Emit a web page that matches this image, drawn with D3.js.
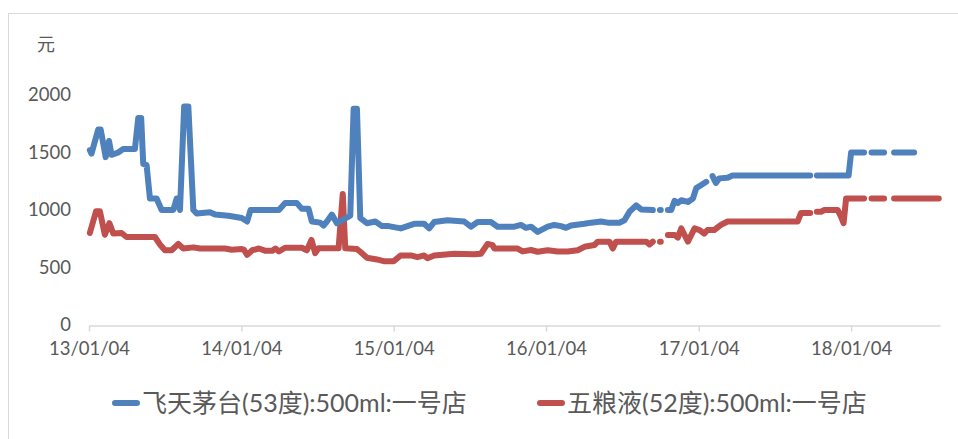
<!DOCTYPE html>
<html><head><meta charset="utf-8">
<script src="https://cdn.jsdelivr.net/npm/d3@7"></script>
<style>body{margin:0;background:#fff}svg{display:block}</style>
</head><body>
<svg id="c" width="958" height="439"></svg>
<script>
const seriesNames = ["飞天茅台(53度):500ml:一号店", "五粮液(52度):500ml:一号店"];
const seriesColors = ["#4F81BD", "#C0504D"];
const yTicks = [0, 500, 1000, 1500, 2000];
const yUnit = "元";
const xTickDates = ["2013-01-04","2014-01-04","2015-01-04","2016-01-04","2017-01-04","2018-01-04"];

const moutaiDates = ["2013-01-06","2013-01-10","2013-01-26","2013-02-01","2013-02-13","2013-02-21","2013-02-27","2013-03-15","2013-03-27","2013-04-24","2013-05-02","2013-05-09","2013-05-14","2013-05-22","2013-05-30","2013-06-15","2013-06-27","2013-07-25","2013-08-02","2013-08-10","2013-08-20","2013-08-30","2013-09-11","2013-09-19","2013-10-21","2013-11-02","2013-12-04","2014-01-05","2014-01-18","2014-01-26","2014-04-04","2014-04-19","2014-05-17","2014-05-29","2014-06-14","2014-06-22","2014-07-12","2014-07-20","2014-07-28","2014-08-09","2014-08-21","2014-09-22","2014-09-30","2014-10-08","2014-10-16","2014-11-01","2014-11-21","2014-12-07","2014-12-23","2015-01-21","2015-02-22","2015-03-18","2015-03-30","2015-04-11","2015-05-13","2015-06-22","2015-07-08","2015-07-24","2015-08-25","2015-09-10","2015-10-20","2015-11-05","2015-11-17","2015-11-29","2015-12-15","2016-01-08","2016-01-24","2016-02-09","2016-02-21","2016-03-04","2016-04-05","2016-04-21","2016-05-15","2016-05-31","2016-06-28","2016-07-10","2016-07-22","2016-08-07","2016-08-19","2016-09-16","2016-09-24","2016-10-03","2016-10-05","2016-10-13","2016-10-22","2016-10-30","2016-11-07","2016-11-15","2016-11-23","2016-12-09","2016-12-21","2016-12-29","2017-01-09","2017-01-22","2017-01-29","2017-02-06","2017-02-14","2017-02-22","2017-03-14","2017-03-26","2017-09-28","2017-10-06","2017-10-14","2017-12-29","2018-01-04","2018-02-04","2018-02-13","2018-02-22","2018-03-24","2018-04-03","2018-04-17","2018-06-04"];
const moutaiValues = [1520,1490,1700,1700,1460,1600,1480,1500,1530,1530,1800,1800,1400,1390,1100,1100,1000,1000,1100,1000,1900,1900,1000,970,980,960,950,930,900,1000,1000,1060,1060,1010,1010,900,890,865,900,960,885,950,1880,1880,930,885,900,860,860,840,880,880,840,895,910,900,855,895,895,855,855,870,845,855,810,855,870,860,845,865,880,890,900,890,890,910,985,1040,1005,1000,null,1000,1000,null,1000,1000,1080,1060,1085,1070,1100,1190,1215,1245,null,1295,1235,1275,1280,1300,1300,null,1300,1300,1500,1500,null,1500,1500,null,1500,1500];

const wuliangyeDates = ["2013-01-06","2013-01-21","2013-01-30","2013-02-11","2013-02-22","2013-03-03","2013-03-23","2013-04-04","2013-06-11","2013-06-23","2013-07-05","2013-07-21","2013-08-06","2013-08-18","2013-09-11","2013-09-27","2013-11-26","2013-12-12","2014-01-05","2014-01-10","2014-01-18","2014-01-30","2014-02-15","2014-03-03","2014-03-19","2014-03-27","2014-04-04","2014-04-19","2014-05-29","2014-06-10","2014-06-21","2014-06-30","2014-07-08","2014-08-25","2014-09-04","2014-09-10","2014-10-08","2014-10-16","2014-11-01","2014-11-25","2014-12-11","2015-01-04","2015-01-21","2015-02-14","2015-03-02","2015-03-18","2015-03-26","2015-04-11","2015-05-29","2015-07-16","2015-08-01","2015-08-17","2015-08-29","2015-09-02","2015-10-28","2015-11-09","2015-11-29","2015-12-15","2016-01-08","2016-02-01","2016-02-25","2016-03-20","2016-04-05","2016-04-29","2016-05-07","2016-06-04","2016-06-12","2016-06-20","2016-08-31","2016-09-08","2016-09-16","2016-09-24","2016-10-03","2016-10-05","2016-10-13","2016-10-22","2016-11-07","2016-11-15","2016-11-23","2016-12-09","2016-12-25","2017-01-06","2017-01-17","2017-01-25","2017-02-10","2017-02-26","2017-03-14","2017-08-29","2017-09-06","2017-09-28","2017-10-06","2017-10-14","2017-10-24","2017-11-01","2017-12-03","2017-12-11","2017-12-17","2017-12-23","2018-02-04","2018-02-13","2018-02-22","2018-03-24","2018-04-03","2018-04-17","2018-08-02"];
const wuliangyeValues = [800,990,990,785,885,795,800,765,765,700,650,650,705,665,675,665,665,655,660,655,610,650,665,645,645,665,640,672,672,650,740,625,667,667,1140,667,660,637,585,570,555,555,605,605,590,605,580,605,620,615,620,705,695,665,665,640,652,637,650,640,640,650,680,695,725,725,665,725,725,700,725,null,725,725,null,783,783,760,840,725,840,825,795,826,826,870,900,900,975,975,null,985,985,1000,1000,940,885,1100,1100,null,1100,1100,null,1100,1100];

const svg = d3.select("#c");
const font = "Lato, 'Noto Sans CJK SC', sans-serif";
const textColor = "#595959";
const parse = d3.timeParse("%Y-%m-%d");

// chart border
svg.append("rect").attr("x", 8.5).attr("y", 13.5).attr("width", 1000).attr("height", 500)
  .attr("fill", "#fff").attr("stroke", "#d9d9d9");

const x = d3.scaleTime().domain([parse("2013-01-04"), parse("2018-08-05")]).range([89, 940]);
const y = d3.scaleLinear().domain([0, 2000]).range([325, 95]);

// y axis (labels only)
const yAxis = svg.append("g").attr("transform", "translate(71,0)")
  .call(d3.axisLeft(y).tickValues(yTicks).tickFormat(d3.format("d")).tickSize(0).tickPadding(0));
yAxis.select(".domain").remove();
yAxis.selectAll("text").attr("font-family", font).attr("font-size", 18.5).attr("fill", textColor);

svg.append("text").attr("x", 46).attr("y", 51).attr("text-anchor", "middle")
  .attr("font-family", font).attr("font-size", 18).attr("fill", textColor).text(yUnit);

// x axis
const xAxis = svg.append("g").attr("transform", "translate(0,325.5)")
  .call(d3.axisBottom(x).tickValues(xTickDates.map(parse)).tickFormat(d3.timeFormat("%y/%m/%d"))
    .tickSize(6).tickSizeOuter(0).tickPadding(10));
xAxis.select(".domain").attr("stroke", "#d9d9d9").attr("stroke-width", 1.5);
xAxis.selectAll(".tick line").attr("stroke", "#d9d9d9").attr("stroke-width", 1.5);
xAxis.selectAll("text").attr("font-family", font).attr("font-size", 18.5).attr("fill", textColor);

// series
const series = [
  {dates: moutaiDates, values: moutaiValues},
  {dates: wuliangyeDates, values: wuliangyeValues}
];
const line = d3.line().defined(d => d.v != null).x(d => x(d.d)).y(d => y(d.v));
series.slice().reverse().forEach((s, ri) => {
  const i = series.length - 1 - ri;
  const pts = s.dates.map((d, k) => ({d: parse(d), v: s.values[k]}));
  svg.append("path").datum(pts).attr("d", line).attr("fill", "none")
    .attr("stroke", seriesColors[i]).attr("stroke-width", 6)
    .attr("stroke-linejoin", "round").attr("stroke-linecap", "round");
});

// legend
const legendX = [115, 540];
seriesNames.forEach((n, i) => {
  const g = svg.append("g").attr("transform", `translate(${legendX[i]},403)`);
  g.append("line").attr("x1", 0).attr("x2", 22).attr("stroke", seriesColors[i])
    .attr("stroke-width", 6).attr("stroke-linecap", "round");
  g.append("text").attr("x", 27).attr("y", 0).attr("dy", "0.36em")
    .attr("font-family", font).attr("font-size", 25).attr("fill", textColor).text(n);
});
</script>
</body></html>
